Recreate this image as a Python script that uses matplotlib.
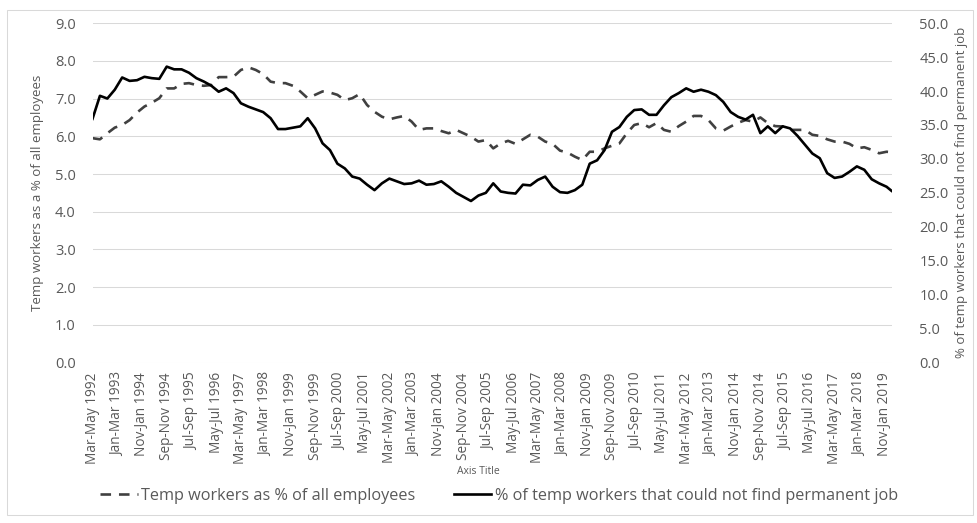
import matplotlib
matplotlib.use("Agg")
import matplotlib.pyplot as plt
import numpy as np
from matplotlib.patches import Rectangle

# rolling quarters, first point Mar-May 1992, last Feb-Apr 2019
n_months = 324
month_idx = list(range(0, 322, 3)) + [323]

# temp workers as % of all employees (left axis), read every 3 months
temp_share = [
    5.95, 5.92, 6.08, 6.23, 6.30, 6.43, 6.63, 6.79, 6.89, 7.01, 7.27, 7.27, 7.39, 7.41, 7.36, 7.34, 7.36, 7.57,
    7.57, 7.58, 7.76, 7.83, 7.76, 7.65, 7.45, 7.41, 7.41, 7.34, 7.19, 7.01, 7.10, 7.19, 7.16, 7.10, 6.96, 7.01,
    7.12, 6.83, 6.65, 6.52, 6.45, 6.50, 6.54, 6.39, 6.17, 6.21, 6.21, 6.14, 6.08, 6.17, 6.08, 5.99, 5.86, 5.90,
    5.68, 5.81, 5.88, 5.80, 5.92, 6.04, 5.99, 5.86, 5.80, 5.62, 5.57, 5.46, 5.37, 5.59, 5.59, 5.68, 5.75, 5.81,
    6.08, 6.30, 6.35, 6.24, 6.35, 6.17, 6.12, 6.27, 6.39, 6.54, 6.54, 6.43, 6.21, 6.15, 6.26, 6.36, 6.43, 6.39,
    6.50, 6.35, 6.27, 6.26, 6.17, 6.17, 6.17, 6.04, 6.01, 5.92, 5.86, 5.86, 5.80, 5.68, 5.71, 5.64, 5.55, 5.59,
    5.58,
]

# % of temp workers that could not find a permanent job (right axis)
no_perm_job = [
    35.9, 39.3, 38.9, 40.2, 42.0, 41.5, 41.6, 42.1, 41.9, 41.8, 43.6, 43.2, 43.2, 42.7, 41.9, 41.4, 40.8, 39.9,
    40.4, 39.7, 38.2, 37.7, 37.3, 36.9, 36.0, 34.4, 34.4, 34.6, 34.8, 36.0, 34.5, 32.3, 31.3, 29.3, 28.6, 27.4,
    27.1, 26.2, 25.4, 26.4, 27.1, 26.7, 26.3, 26.4, 26.8, 26.2, 26.3, 26.7, 25.9, 25.0, 24.4, 23.8, 24.6, 25.0,
    26.4, 25.2, 25.0, 24.9, 26.2, 26.1, 26.9, 27.4, 25.9, 25.1, 25.0, 25.4, 26.2, 29.3, 29.8, 31.3, 34.0, 34.7,
    36.2, 37.2, 37.3, 36.5, 36.5, 37.9, 39.1, 39.7, 40.4, 39.9, 40.2, 39.9, 39.4, 38.4, 36.9, 36.2, 35.8, 36.5,
    33.8, 34.8, 33.8, 34.8, 34.5, 33.4, 32.1, 30.8, 30.1, 27.9, 27.2, 27.4, 28.1, 28.9, 28.4, 27.0, 26.4, 25.9,
    25.3,
]

tick_labels = [
    "Mar-May 1992", "Jan-Mar 1993", "Nov-Jan 1994", "Sep-Nov 1994", "Jul-Sep 1995", "May-Jul 1996",
    "Mar-May 1997", "Jan-Mar 1998", "Nov-Jan 1999", "Sep-Nov 1999", "Jul-Sep 2000", "May-Jul 2001",
    "Mar-May 2002", "Jan-Mar 2003", "Nov-Jan 2004", "Sep-Nov 2004", "Jul-Sep 2005", "May-Jul 2006",
    "Mar-May 2007", "Jan-Mar 2008", "Nov-Jan 2009", "Sep-Nov 2009", "Jul-Sep 2010", "May-Jul 2011",
    "Mar-May 2012", "Jan-Mar 2013", "Nov-Jan 2014", "Sep-Nov 2014", "Jul-Sep 2015", "May-Jul 2016",
    "Mar-May 2017", "Jan-Mar 2018", "Nov-Jan 2019",
]
tick_pos = list(range(0, 321, 10))

left_ticks = np.arange(0, 9.01, 1.0)
right_ticks = np.arange(0, 50.01, 5.0)

plt.rcParams["font.family"] = ["Open Sans", "DejaVu Sans"]
TXT = "#595959"

W, H = 977, 523
fig = plt.figure(figsize=(W / 100, H / 100), dpi=100)
fig.patches.append(Rectangle((7 / W, 8 / H), 966 / W, 505 / H, transform=fig.transFigure,
                             fill=False, edgecolor="#d9d9d9", linewidth=0.75))

ax = fig.add_axes([92.5 / W, 1 - 362.5 / H, 799 / W, 339.3 / H])
ax2 = ax.twinx()

l1, = ax.plot(month_idx, temp_share, color="#404040", linewidth=1.9, linestyle=(0, (4, 3)),
              label="Temp workers as % of all employees")
l2, = ax2.plot(month_idx, no_perm_job, color="black", linewidth=1.9,
               label="% of temp workers that could not find permanent job")

ax.set_xlim(0, n_months - 1)
ax.set_ylim(0, 9)
ax2.set_ylim(0, 50)
ax.set_yticks(left_ticks)
ax.set_yticklabels([f"{v:.1f}" for v in left_ticks])
ax2.set_yticks(right_ticks)
ax2.set_yticklabels([f"{v:.1f}" for v in right_ticks])
ax.set_xticks(tick_pos)
ax.set_xticklabels(tick_labels, rotation=90)

ax.grid(axis="y", color="#d9d9d9", linewidth=0.75)
ax.set_axisbelow(True)
for a in (ax, ax2):
    for s in a.spines.values():
        s.set_visible(False)
ax.tick_params(axis="y", length=0, pad=12, labelsize=10.5, labelcolor=TXT)
ax2.tick_params(axis="y", length=0, pad=20, labelsize=10.5, labelcolor=TXT)
ax.tick_params(axis="x", length=0, pad=7, labelsize=9.8, labelcolor=TXT)

ax.set_ylabel("Temp workers as a % of all employees", fontsize=9.5, color=TXT)
ax.yaxis.set_label_coords(-0.061, 0.5)
ax2.set_ylabel("% of temp workers that could not find permanent job", fontsize=9.5, color=TXT)
ax2.yaxis.set_label_coords(1.08, 0.5)

fig.text(478 / W, 1 - 472 / H, "Axis Title", fontsize=7.5, color=TXT, ha="center", va="center")

fig.legend(handles=[l1, l2], loc="center", bbox_to_anchor=(499 / W, 1 - 496 / H), ncol=2,
           frameon=False, fontsize=11.7, labelcolor=TXT, handlelength=2.3, columnspacing=2.4,
           handletextpad=0.2)

fig.savefig("out.png", dpi=100)
